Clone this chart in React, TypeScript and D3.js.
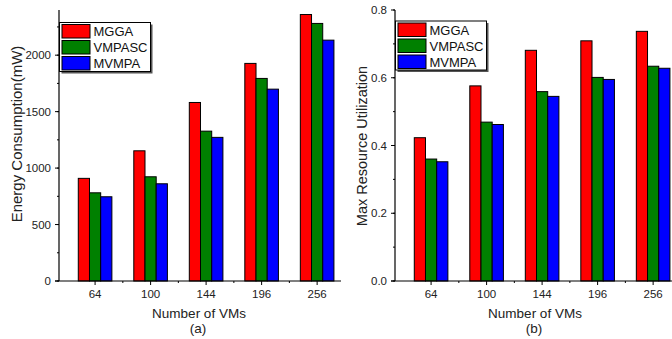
import React, { useEffect, useRef } from 'react';
import * as d3 from 'd3';

// categories on the x axis
const vmCounts = ['64', '100', '144', '196', '256'];
const seriesNames = ['MGGA', 'VMPASC', 'MVMPA'];
const seriesColors = ['#ff0000', '#008000', '#0000ff'];

// (a) energy consumption in mW
const energyMGGA = [909, 1153, 1581, 1927, 2360];
const energyVMPASC = [781, 923, 1327, 1794, 2281];
const energyMVMPA = [746, 861, 1272, 1699, 2133];

// (b) max resource utilization
const utilMGGA = [0.423, 0.576, 0.681, 0.709, 0.737];
const utilVMPASC = [0.36, 0.469, 0.559, 0.601, 0.634];
const utilMVMPA = [0.352, 0.462, 0.545, 0.595, 0.628];

const energyTicks = [0, 500, 1000, 1500, 2000];
const utilTicks = [0, 0.2, 0.4, 0.6, 0.8];

const FONT = '"Liberation Sans", Arial, sans-serif';

export default function App() {
    const ref = useRef<SVGSVGElement>(null);

    useEffect(() => {
        const svg = d3.select(ref.current);
        svg.selectAll('*').remove();

        const panels = [
            {
                dx: 0,
                series: [energyMGGA, energyVMPASC, energyMVMPA],
                yMax: 2400,
                ticks: energyTicks,
                minor: 250,
                fmt: d3.format('d'),
                yTitle: 'Energy Consumption(mW)',
                yTitleX: 17,
                yTitleY: 134,
                yTitleSize: 15,
                label: '(a)',
                legendY: 22.5,
            },
            {
                dx: 336,
                series: [utilMGGA, utilVMPASC, utilMVMPA],
                yMax: 0.8,
                ticks: utilTicks,
                minor: 0.1,
                fmt: d3.format('.1f'),
                yTitle: 'Max Resource Utilization',
                yTitleX: 362,
                yTitleY: 146,
                yTitleSize: 14.5,
                label: '(b)',
                legendY: 21,
            },
        ];

        panels.forEach((p) => {
            const g = svg.append('g').attr('transform', 'translate(' + p.dx + ',0)');
            const left = 59;
            const right = 341;
            const top = 10;
            const bottom = 281;

            const x = d3.scaleLinear().domain([-0.65, 4.43]).range([left, right]);
            const y = d3.scaleLinear().domain([0, p.yMax]).range([bottom, top]);
            const inner = d3.scaleBand().domain(seriesNames).range([-16.8, 16.8]);

            // bars
            p.series.forEach((vals, si) => {
                g.selectAll('.bar' + si)
                    .data(vals)
                    .enter()
                    .append('rect')
                    .attr('x', (d, i) => x(i) + (inner(seriesNames[si]) as number))
                    .attr('y', (d) => y(d))
                    .attr('width', inner.bandwidth())
                    .attr('height', (d) => bottom - y(d))
                    .attr('fill', seriesColors[si])
                    .attr('stroke', '#000')
                    .attr('stroke-width', 1);
            });

            // axes lines
            g.append('line')
                .attr('x1', left).attr('x2', left)
                .attr('y1', top).attr('y2', bottom)
                .attr('stroke', '#000').attr('stroke-width', 1.2);
            g.append('line')
                .attr('x1', left - 4).attr('x2', right)
                .attr('y1', bottom).attr('y2', bottom)
                .attr('stroke', '#000').attr('stroke-width', 1.2);

            // y ticks
            const minorTicks = d3.range(0, p.yMax + p.minor / 2, p.minor);
            g.selectAll('.ymin')
                .data(minorTicks)
                .enter()
                .append('line')
                .attr('x1', left - 2).attr('x2', left)
                .attr('y1', (d) => y(d)).attr('y2', (d) => y(d))
                .attr('stroke', '#000');
            g.selectAll('.ymaj')
                .data(p.ticks)
                .enter()
                .append('line')
                .attr('x1', left - 4).attr('x2', left)
                .attr('y1', (d) => y(d)).attr('y2', (d) => y(d))
                .attr('stroke', '#000');
            g.selectAll('.ylab')
                .data(p.ticks)
                .enter()
                .append('text')
                .attr('x', left - 8)
                .attr('y', (d) => y(d))
                .attr('dy', '0.35em')
                .attr('text-anchor', 'end')
                .attr('font-family', FONT)
                .attr('font-size', 11.5)
                .attr('fill', '#222')
                .text((d) => p.fmt(d));

            // x ticks
            g.selectAll('.xmaj')
                .data(vmCounts)
                .enter()
                .append('line')
                .attr('x1', (d, i) => x(i)).attr('x2', (d, i) => x(i))
                .attr('y1', bottom).attr('y2', bottom + 4)
                .attr('stroke', '#000');
            g.selectAll('.xmin')
                .data(vmCounts.slice(0, 4))
                .enter()
                .append('line')
                .attr('x1', (d, i) => x(i + 0.5)).attr('x2', (d, i) => x(i + 0.5))
                .attr('y1', bottom).attr('y2', bottom + 2)
                .attr('stroke', '#000');
            g.selectAll('.xlab')
                .data(vmCounts)
                .enter()
                .append('text')
                .attr('x', (d, i) => x(i))
                .attr('y', bottom + 13)
                .attr('dy', '0.35em')
                .attr('text-anchor', 'middle')
                .attr('font-family', FONT)
                .attr('font-size', 11.5)
                .attr('fill', '#222')
                .text((d) => d);

            // axis titles
            const mid = (left + right) / 2;
            g.append('text')
                .attr('x', mid - 1)
                .attr('y', 313)
                .attr('dy', '0.35em')
                .attr('text-anchor', 'middle')
                .attr('font-family', FONT)
                .attr('font-size', 13.5)
                .attr('fill', '#222')
                .text('Number of VMs');
            g.append('text')
                .attr('x', mid - 2)
                .attr('y', 328)
                .attr('dy', '0.35em')
                .attr('text-anchor', 'middle')
                .attr('font-family', FONT)
                .attr('font-size', 13.5)
                .attr('fill', '#222')
                .text(p.label);
            svg.append('text')
                .attr('transform', 'translate(' + p.yTitleX + ',' + p.yTitleY + ') rotate(-90)')
                .attr('dy', '0.35em')
                .attr('text-anchor', 'middle')
                .attr('font-family', FONT)
                .attr('font-size', p.yTitleSize)
                .attr('fill', '#222')
                .text(p.yTitle);

            // legend
            const lx = left + 0.5;
            const ly = p.legendY;
            const lw = 91;
            const lh = 49;
            g.append('rect')
                .attr('x', lx + 2).attr('y', ly + 2)
                .attr('width', lw).attr('height', lh)
                .attr('fill', '#555');
            g.append('rect')
                .attr('x', lx).attr('y', ly)
                .attr('width', lw).attr('height', lh)
                .attr('fill', '#fff')
                .attr('stroke', '#000')
                .attr('stroke-width', 1);
            seriesNames.forEach((name, si) => {
                g.append('rect')
                    .attr('x', lx + 2.5)
                    .attr('y', ly + 2 + si * 16)
                    .attr('width', 28)
                    .attr('height', 13.5)
                    .attr('fill', seriesColors[si])
                    .attr('stroke', '#000');
                g.append('text')
                    .attr('x', lx + 34)
                    .attr('y', ly + 9 + si * 16)
                    .attr('dy', '0.35em')
                    .attr('font-family', FONT)
                    .attr('font-size', 13)
                    .attr('fill', '#111')
                    .text(name);
            });
        });
    }, []);

    return (
        <svg
            ref={ref}
            width={672}
            height={339}
            style={{ position: 'absolute', left: 0, top: 0, background: '#fff' }}
        />
    );
}
